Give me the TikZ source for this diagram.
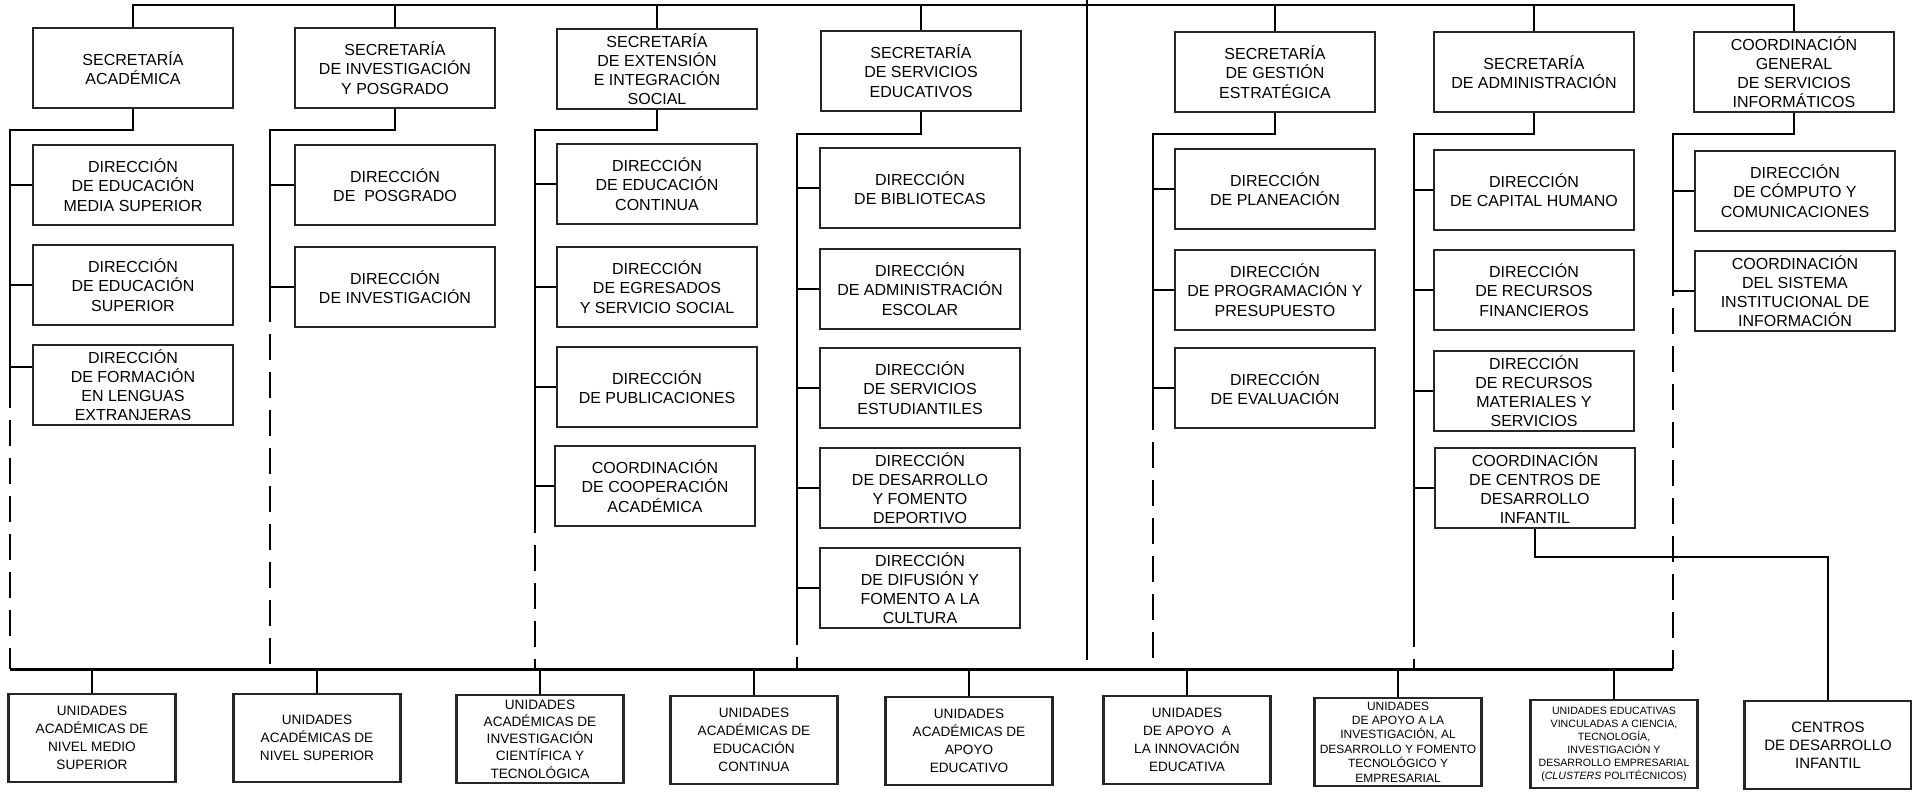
\documentclass[tikz,border=0pt]{standalone}
\usepackage{fontspec}
\setmainfont{Liberation Sans}
\usetikzlibrary{positioning, calc}

\begin{document}
\begin{tikzpicture}[
  x=0.5pt, y=-0.5pt,
  secbox/.style={draw=black!85, fill=white, line width=1.1pt, minimum width=100pt, minimum height=40pt, inner sep=1pt, align=center, font=\fontsize{8}{9.6}\selectfont},
  unitbox/.style={draw=black!85, fill=white, line width=1.1pt, minimum width=83.5pt, minimum height=44pt, inner sep=1pt, align=center, font=\fontsize{6.8}{9.1}\selectfont},
  link/.style={line width=1.2pt},
  dashlink/.style={line width=1.1pt, dash pattern=on 13pt off 6pt, dash phase=13pt}
]
  \useasboundingbox (0,0) rectangle (1912,792);

  % secretarias
  \node[secbox] (sa) at (133,68) {SECRETARÍA\\ACADÉMICA};
  \node[secbox] (sip) at (395,68) {SECRETARÍA\\DE INVESTIGACIÓN\\Y POSGRADO};
  \node[secbox] (sei) at (657,69) {SECRETARÍA\\DE EXTENSIÓN\\E INTEGRACIÓN\\SOCIAL};
  \node[secbox] (sse) at (921,71) {SECRETARÍA\\DE SERVICIOS\\EDUCATIVOS};
  \node[secbox] (sge) at (1275,72) {SECRETARÍA\\DE GESTIÓN\\ESTRATÉGICA};
  \node[secbox] (sad) at (1534,72) {SECRETARÍA\\DE ADMINISTRACIÓN};
  \node[secbox] (cgsi) at (1794,72) {COORDINACIÓN\\GENERAL\\DE SERVICIOS\\INFORMÁTICOS};

  % direcciones
  \node[secbox] (d11) at (133,185) {DIRECCIÓN\\DE EDUCACIÓN\\MEDIA SUPERIOR};
  \node[secbox] (d12) at (133,285) {DIRECCIÓN\\DE EDUCACIÓN\\SUPERIOR};
  \node[secbox] (d13) at (133,385) {DIRECCIÓN\\DE FORMACIÓN\\EN LENGUAS\\EXTRANJERAS};

  \node[secbox] (d21) at (395,185) {DIRECCIÓN\\DE \ POSGRADO};
  \node[secbox] (d22) at (395,287) {DIRECCIÓN\\DE INVESTIGACIÓN};

  \node[secbox] (d31) at (657,184) {DIRECCIÓN\\DE EDUCACIÓN\\CONTINUA};
  \node[secbox] (d32) at (657,287) {DIRECCIÓN\\DE EGRESADOS\\Y SERVICIO SOCIAL};
  \node[secbox] (d33) at (657,387) {DIRECCIÓN\\DE PUBLICACIONES};
  \node[secbox] (d34) at (655,486) {COORDINACIÓN\\DE COOPERACIÓN\\ACADÉMICA};

  \node[secbox] (d41) at (920,188) {DIRECCIÓN\\DE BIBLIOTECAS};
  \node[secbox] (d42) at (920,289) {DIRECCIÓN\\DE ADMINISTRACIÓN\\ESCOLAR};
  \node[secbox] (d43) at (920,388) {DIRECCIÓN\\DE SERVICIOS\\ESTUDIANTILES};
  \node[secbox] (d44) at (920,488) {DIRECCIÓN\\DE DESARROLLO\\Y FOMENTO\\DEPORTIVO};
  \node[secbox] (d45) at (920,588) {DIRECCIÓN\\DE DIFUSIÓN Y\\FOMENTO A LA\\CULTURA};

  \node[secbox] (d51) at (1275,189) {DIRECCIÓN\\DE PLANEACIÓN};
  \node[secbox] (d52) at (1275,290) {DIRECCIÓN\\DE PROGRAMACIÓN Y\\PRESUPUESTO};
  \node[secbox] (d53) at (1275,388) {DIRECCIÓN\\DE EVALUACIÓN};

  \node[secbox] (d61) at (1534,190) {DIRECCIÓN\\DE CAPITAL HUMANO};
  \node[secbox] (d62) at (1534,290) {DIRECCIÓN\\DE RECURSOS\\FINANCIEROS};
  \node[secbox] (d63) at (1534,391) {DIRECCIÓN\\DE RECURSOS\\MATERIALES Y\\SERVICIOS};
  \node[secbox] (d64) at (1535,488) {COORDINACIÓN\\DE CENTROS DE\\DESARROLLO\\INFANTIL};

  \node[secbox] (d71) at (1795,191) {DIRECCIÓN\\DE CÓMPUTO Y\\COMUNICACIONES};
  \node[secbox] (d72) at (1795,291) {COORDINACIÓN\\DEL SISTEMA\\INSTITUCIONAL DE\\INFORMACIÓN};

  % unidades
  \node[unitbox] (u1) at (92,738) {UNIDADES\\ACADÉMICAS DE\\NIVEL MEDIO\\SUPERIOR};
  \node[unitbox] (u2) at (317,738) {UNIDADES\\ACADÉMICAS DE\\NIVEL SUPERIOR};
  \node[unitbox, font=\fontsize{6.8}{8.6}\selectfont] (u3) at (540,739) {UNIDADES\\ACADÉMICAS DE\\INVESTIGACIÓN\\CIENTÍFICA Y\\TECNOLÓGICA};
  \node[unitbox] (u4) at (754,740) {UNIDADES\\ACADÉMICAS DE\\EDUCACIÓN\\CONTINUA};
  \node[unitbox] (u5) at (969,741) {UNIDADES\\ACADÉMICAS DE\\APOYO\\EDUCATIVO};
  \node[unitbox] (u6) at (1187,740) {UNIDADES\\DE APOYO \ A\\LA INNOVACIÓN\\EDUCATIVA};
  \node[unitbox, font=\fontsize{6}{7.2}\selectfont] (u7) at (1398,742) {UNIDADES\\DE APOYO A LA\\INVESTIGACIÓN, AL\\DESARROLLO Y FOMENTO\\TECNOLÓGICO Y\\EMPRESARIAL};
  \node[unitbox, font=\fontsize{5.3}{6.5}\selectfont] (u8) at (1614,744) {UNIDADES EDUCATIVAS\\VINCULADAS A CIENCIA,\\TECNOLOGÍA,\\INVESTIGACIÓN Y\\DESARROLLO EMPRESARIAL\\(\textit{CLUSTERS} POLITÉCNICOS)};
  \node[unitbox, font=\fontsize{7.5}{9}\selectfont] (u9) at (1828,745) {CENTROS\\DE DESARROLLO\\INFANTIL};

  % lineas de mando
  \coordinate (top) at (0,5);
  \coordinate (ctop) at (1087,0);
  \coordinate (cbot) at (1087,660);
  \draw[link] (sa.north) -- (sa.north |- top) -| (cgsi.north);
  \draw[link] (sip.north) -- (sip.north |- top);
  \draw[link] (sei.north) -- (sei.north |- top);
  \draw[link] (sse.north) -- (sse.north |- top);
  \draw[link] (sge.north) -- (sge.north |- top);
  \draw[link] (sad.north) -- (sad.north |- top);
  \draw[link] (ctop) -- (cbot);

  % columnas
  \coordinate (k1) at (10,130);   \coordinate (m1) at (10,408);   \coordinate (b1) at (10,669);
  \coordinate (k2) at (270,130);  \coordinate (m2) at (270,322);  \coordinate (b2) at (270,669);
  \coordinate (k3) at (535,130);  \coordinate (m3) at (535,533);  \coordinate (b3) at (535,669);
  \coordinate (k4) at (797,134);  \coordinate (m4) at (797,645);  \coordinate (b4) at (797,669);
  \coordinate (k5) at (1153,134); \coordinate (m5) at (1153,430); \coordinate (b5) at (1153,669);
  \coordinate (k6) at (1414,134); \coordinate (m6) at (1414,647); \coordinate (b6) at (1414,669);
  \coordinate (k7) at (1673,134); \coordinate (m7) at (1673,296); \coordinate (b7) at (1673,669);

  \draw[link] (sa.south) |- (k1) -- (m1);
  \draw[link] (sip.south) |- (k2) -- (m2);
  \draw[link] (sei.south) |- (k3) -- (m3);
  \draw[link] (sse.south) |- (k4) -- (m4);
  \draw[link] (sge.south) |- (k5) -- (m5);
  \draw[link] (sad.south) |- (k6) -- (m6);
  \draw[link] (cgsi.south) |- (k7) -- (m7);

  \draw[dashlink] (m1) -- (b1);
  \draw[dashlink] (m2) -- (b2);
  \draw[dashlink] (m3) -- (b3);
  \draw[dashlink] (m4) -- (b4);
  \draw[dashlink] (m5) -- (b5);
  \draw[dashlink] (m6) -- (b6);
  \draw[dashlink] (m7) -- (b7);

  \coordinate (c13) at ([yshift=9pt]d13.west);
  \draw[link] (d11.west) -- (d11.west -| k1);
  \draw[link] (d12.west) -- (d12.west -| k1);
  \draw[link] (c13) -- (c13 -| k1);
  \draw[link] (d21.west) -- (d21.west -| k2);
  \draw[link] (d22.west) -- (d22.west -| k2);
  \draw[link] (d31.west) -- (d31.west -| k3);
  \draw[link] (d32.west) -- (d32.west -| k3);
  \draw[link] (d33.west) -- (d33.west -| k3);
  \draw[link] (d34.west) -- (d34.west -| k3);
  \draw[link] (d41.west) -- (d41.west -| k4);
  \draw[link] (d42.west) -- (d42.west -| k4);
  \draw[link] (d43.west) -- (d43.west -| k4);
  \draw[link] (d44.west) -- (d44.west -| k4);
  \draw[link] (d45.west) -- (d45.west -| k4);
  \draw[link] (d51.west) -- (d51.west -| k5);
  \draw[link] (d52.west) -- (d52.west -| k5);
  \draw[link] (d53.west) -- (d53.west -| k5);
  \draw[link] (d61.west) -- (d61.west -| k6);
  \draw[link] (d62.west) -- (d62.west -| k6);
  \draw[link] (d63.west) -- (d63.west -| k6);
  \draw[link] (d64.west) -- (d64.west -| k6);
  \draw[link] (d71.west) -- (d71.west -| k7);
  \draw[link] (d72.west) -- (d72.west -| k7);

  % barra de unidades
  \draw[link, line width=1.5pt] (b1) -- (b7);
  \draw[link] (u1.north) -- (u1.north |- b1);
  \draw[link] (u2.north) -- (u2.north |- b1);
  \draw[link] (u3.north) -- (u3.north |- b1);
  \draw[link] (u4.north) -- (u4.north |- b1);
  \draw[link] (u5.north) -- (u5.north |- b1);
  \draw[link] (u6.north) -- (u6.north |- b1);
  \draw[link] (u7.north) -- (u7.north |- b1);
  \draw[link] (u8.north) -- (u8.north |- b1);

  \coordinate (cdi) at (1828,557);
  \draw[link] (d64.south) |- (cdi) -- (u9.north);
\end{tikzpicture}
\end{document}
